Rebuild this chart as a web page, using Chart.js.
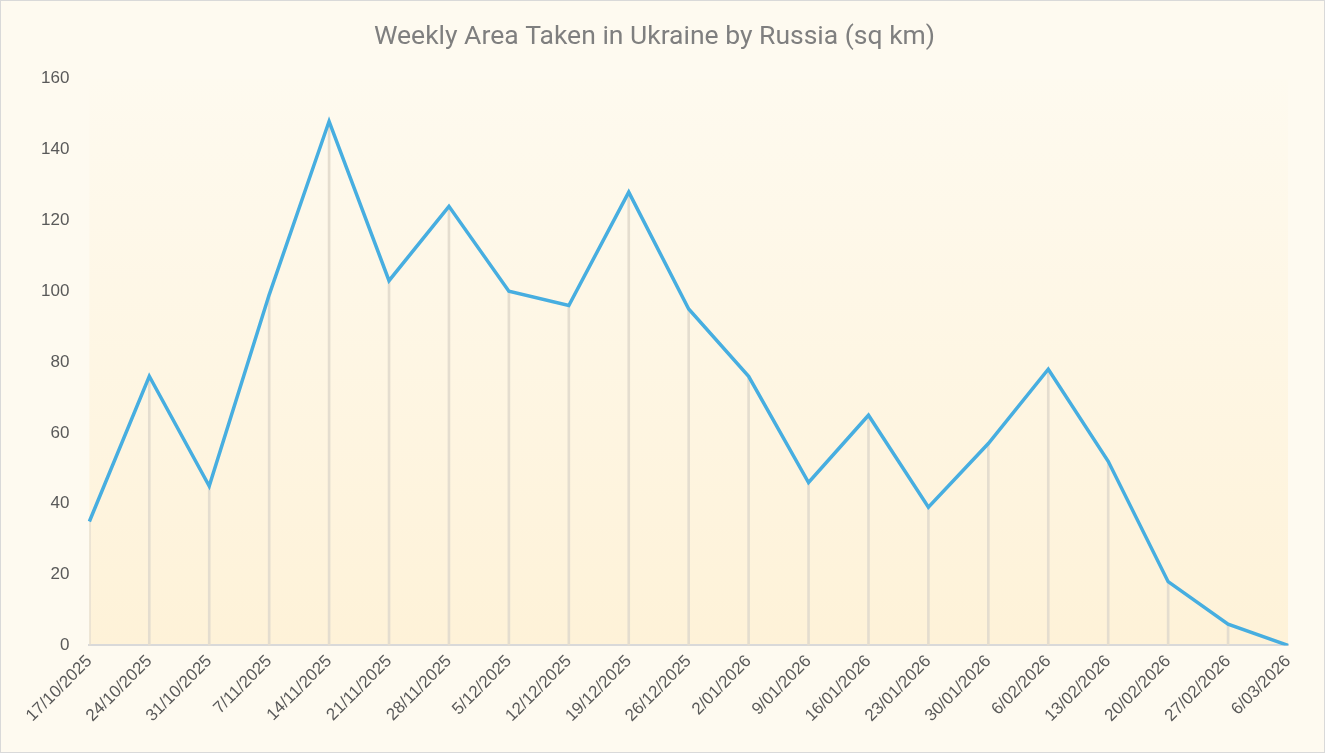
<!DOCTYPE html>
<html lang="en">
<head>
  <meta charset="UTF-8">
  <title>Weekly Area Taken</title>
  <script src="https://cdn.jsdelivr.net/npm/chart.js"></script>
  <style>
    body { margin: 0; background: #fff; }
    #wrap { width: 1323px; height: 751px; border: 1px solid #d9d9d9; background: #fefaf0; }
  </style>
</head>
<body>
  <div id="wrap"><canvas id="myChart" width="1323" height="751"></canvas></div>
  <script>
    // weekly data
    const weeks = ['17/10/2025', '24/10/2025', '31/10/2025', '7/11/2025', '14/11/2025', '21/11/2025',
      '28/11/2025', '5/12/2025', '12/12/2025', '19/12/2025', '26/12/2025', '2/01/2026', '9/01/2026',
      '16/01/2026', '23/01/2026', '30/01/2026', '6/02/2026', '13/02/2026', '20/02/2026', '27/02/2026', '6/03/2026'];
    const areaTaken = [35, 76, 45, 99, 148, 103, 124, 100, 96, 128, 95, 76, 46, 65, 39, 57, 78, 52, 18, 6, 0];

    // plot area gradient
    const plotBg = {
      id: 'plotBg',
      beforeDraw(chart) {
        const { ctx, chartArea: a } = chart;
        const g = ctx.createLinearGradient(0, a.top, 0, a.bottom);
        g.addColorStop(0, '#fefaef');
        g.addColorStop(1, '#fef2d8');
        ctx.save();
        ctx.fillStyle = g;
        ctx.fillRect(a.left, a.top, a.right - a.left, a.bottom - a.top);
        ctx.restore();
      }
    };

    const ctx = document.getElementById('myChart').getContext('2d');
    new Chart(ctx, {
      data: {
        labels: weeks,
        datasets: [{
          type: 'line',
          label: 'Area',
          data: areaTaken,
          borderColor: '#47aee0',
          borderWidth: 3.5,
          pointRadius: 0,
          tension: 0,
          order: 1
        }, {
          type: 'bar',
          label: 'drop',
          data: areaTaken,
          backgroundColor: '#e4ddcf',
          barThickness: 2,
          order: 2
        }]
      },
      options: {
        responsive: false,
        animation: false,
        layout: { padding: { left: 20, right: 36, top: 10, bottom: 20 } },
        plugins: {
          legend: { display: false },
          tooltip: { enabled: false },
          title: {
            display: true,
            text: 'Weekly Area Taken in Ukraine by Russia (sq km)',
            color: '#7f7f7f',
            font: { family: "Roboto, sans-serif", size: 26.5, weight: 'normal' },
            padding: { top: 10, bottom: 26 }
          }
        },
        scales: {
          x: {
            offset: false,
            grid: { display: false, drawTicks: false },
            border: { color: '#d9d9d9', width: 2 },
            ticks: {
              color: '#595959',
              font: { family: "'Liberation Sans', Arial, sans-serif", size: 17 },
              maxRotation: 45, minRotation: 45,
              autoSkip: false,
              padding: 6
            }
          },
          y: {
            min: 0, max: 160,
            grid: { display: false, drawTicks: false },
            border: { display: false },
            ticks: {
              stepSize: 20,
              color: '#595959',
              font: { family: "'Liberation Sans', Arial, sans-serif", size: 17 },
              padding: 20
            }
          }
        }
      },
      plugins: [plotBg]
    });
  </script>
</body>
</html>
